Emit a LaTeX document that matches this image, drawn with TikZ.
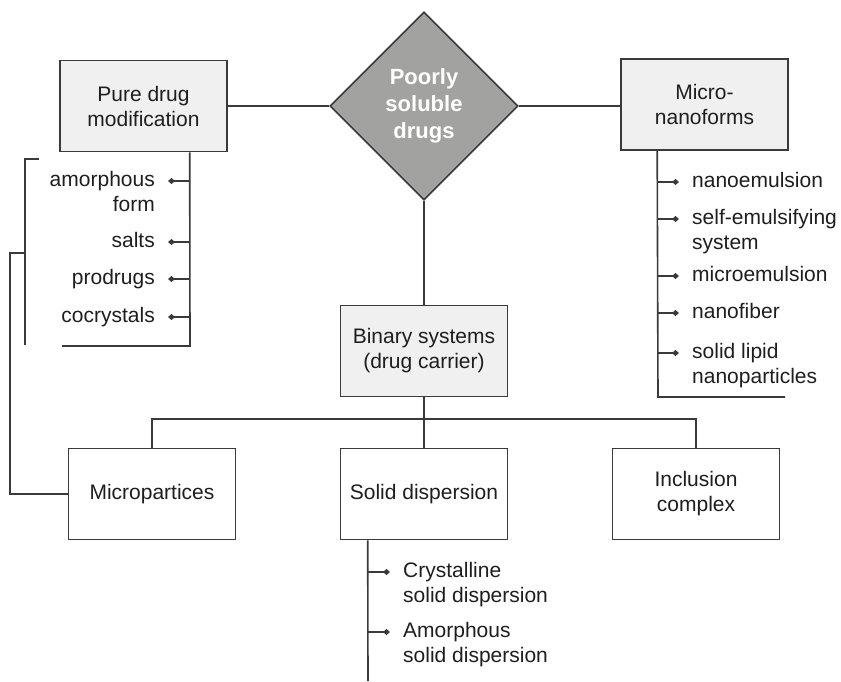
\documentclass[tikz,border=0pt]{standalone}
\usepackage{fontspec}
\setmainfont{Liberation Sans}
\usetikzlibrary{shapes.geometric,arrows.meta,calc}
\definecolor{ln}{HTML}{3A3A3A}
\definecolor{boxfill}{HTML}{F0F0F0}
\definecolor{dfill}{HTML}{A2A3A1}
\definecolor{txt}{HTML}{1E1E1E}
\begin{document}
\begin{tikzpicture}[x=1pt,y=-1pt,
  line/.style={draw=ln,line width=1.6pt},
  fbox/.style={line, fill=boxfill, minimum width=167pt, minimum height=91pt,
    align=center, inner sep=0pt, font=\fontsize{21}{25}\selectfont, text=txt},
  wbox/.style={fbox, fill=white},
  lbl/.style={inner xsep=13pt, inner ysep=0pt, font=\fontsize{21}{25}\selectfont, text=txt},
  br/.style={line, -{Diamond[length=7pt,width=6pt]}},
]
\useasboundingbox (0,0) rectangle (841,681);

% central diamond and the four main boxes
\node[diamond, aspect=1, draw=ln, line width=1.6pt, fill=dfill,
  minimum width=188pt, minimum height=188pt, inner sep=0pt, align=center,
  text=white, font=\bfseries\fontsize{22}{27}\selectfont] (core) at (424,106) {Poorly\\soluble\\drugs};
\node[fbox] (pure) at (143.5,106) {Pure drug\\modification};
\node[fbox] (micro) at (704.5,104.5) {Micro-\\nanoforms};
\node[fbox] (bin) at (424,351) {Binary systems\\(drug carrier)};
\node[wbox] (mp) at (152,494) {Micropartices};
\node[wbox] (sd) at (424,494) {Solid dispersion};
\node[wbox] (ic) at (696,494) {Inclusion\\complex};

% main connectors
\draw[line] (pure.east) -- (pure.east -| core.west);
\draw[line] (core.east) -- (core.east -| micro.west);
\draw[line] (core.south) -- (bin.north);
\coordinate (hub) at (424,419);
\draw[line] (bin.south) -- (sd.north);
\draw[line] (mp.north) |- (hub) -| (ic.north);

% pure drug modification branch
\coordinate (pstem) at ($(pure.south west)+(130.5,0)$);
\coordinate (pend) at (190,346);
\coordinate (pfoot) at (62,346);
\draw[line] (pstem) -- (pend) -- (pfoot);
\node[lbl, anchor=north east, align=right] (amor) at (168,171) {amorphous\\form};
\node[lbl, anchor=north east] (salts) at (168,232) {salts};
\node[lbl, anchor=north east] (prod) at (168,269) {prodrugs};
\node[lbl, anchor=north east] (cocr) at (168,307) {cocrystals};
\coordinate (p1) at (190,181);
\coordinate (p2) at (190,242);
\coordinate (p3) at (190,279);
\coordinate (p4) at (190,317);
\draw[br] (p1) -- (p1 -| amor.east);
\draw[br] (p2) -- (p2 -| salts.east);
\draw[br] (p3) -- (p3 -| prod.east);
\draw[br] (p4) -- (p4 -| cocr.east);

% bracket linking the pure drug group to micropartices
\coordinate (bt) at (39,159);
\coordinate (btc) at (25,159);
\coordinate (bb) at (25,345);
\coordinate (bm) at (25,253);
\coordinate (bl) at (10,253);
\coordinate (bd) at (10,494);
\draw[line] (bt) -- (btc) -- (bb);
\draw[line] (bm) -- (bl) -- (bd) -- (mp.west);

% micro-nanoforms branch
\coordinate (mstem) at ($(micro.south west)+(37,0)$);
\coordinate (mend) at (658,397);
\coordinate (mfoot) at (785,397);
\draw[line] (mstem) -- (mend) -- (mfoot);
\node[lbl, anchor=north west] (nano) at (679,172) {nanoemulsion};
\node[lbl, anchor=north west, align=left] (self) at (679,209) {self-emulsifying\\system};
\node[lbl, anchor=north west] (mice) at (679,266) {microemulsion};
\node[lbl, anchor=north west] (fib) at (679,303) {nanofiber};
\node[lbl, anchor=north west, align=left] (sln) at (679,343) {solid lipid\\nanoparticles};
\coordinate (m1) at (658,182);
\coordinate (m2) at (658,219);
\coordinate (m3) at (658,276);
\coordinate (m4) at (658,313);
\coordinate (m5) at (658,353);
\draw[br] (m1) -- (m1 -| nano.west);
\draw[br] (m2) -- (m2 -| self.west);
\draw[br] (m3) -- (m3 -| mice.west);
\draw[br] (m4) -- (m4 -| fib.west);
\draw[br] (m5) -- (m5 -| sln.west);

% solid dispersion branch
\coordinate (sstem) at ($(sd.south west)+(28,0)$);
\coordinate (send) at (368,681);
\draw[line] (sstem) -- (send);
\node[lbl, anchor=north west, align=left] (cryst) at (390,562) {Crystalline\\solid dispersion};
\node[lbl, anchor=north west, align=left] (amsd) at (390,622) {Amorphous\\solid dispersion};
\coordinate (s1) at (368,572);
\coordinate (s2) at (368,632);
\draw[br] (s1) -- (s1 -| cryst.west);
\draw[br] (s2) -- (s2 -| amsd.west);
\end{tikzpicture}
\end{document}
